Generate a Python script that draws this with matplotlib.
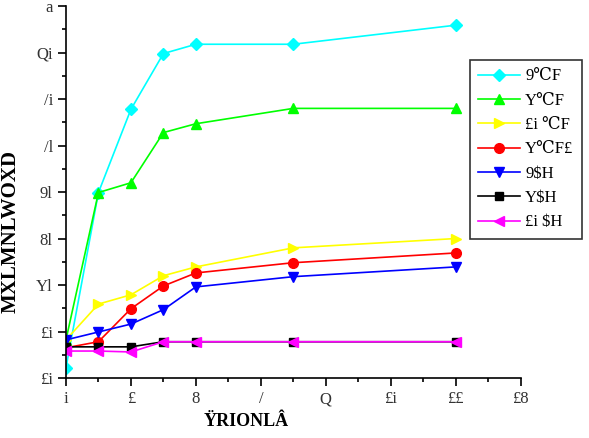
import matplotlib
matplotlib.use('Agg')
import matplotlib.pyplot as plt
from matplotlib.ticker import MultipleLocator

# ---------- DATA ----------
x = [0, 1, 2, 3, 4, 7, 12]
cyan_vals = [2.2, 39.9, 57.8, 69.8, 71.8, 71.8, 75.9]
green_vals = [8.2, 39.9, 42.0, 52.8, 54.7, 58.0, 58.0]
yellow_vals = [8.2, 15.9, 17.9, 22.0, 23.9, 28.0, 30.0]
red_vals = [6.5, 7.8, 14.9, 19.8, 22.6, 24.8, 26.9]
blue_vals = [8.2, 9.9, 11.6, 14.7, 19.6, 21.8, 23.9]
black_vals = [6.7, 6.7, 6.7, 7.8, 7.8, 7.8, 7.8]
magenta_vals = [5.8, 5.8, 5.6, 7.8, 7.8, 7.8, 7.8]

series_labels = ["9℃F", "Y℃F", "£i ℃F", "Y℃F£", "9$H", "Y$H", "£i $H"]
x_ticks = [0, 2, 4, 6, 8, 10, 12, 14]
x_tick_labels = ["i", "£", "8", "/", "Q", "£i", "££", "£8"]
y_ticks = [0, 10, 20, 30, 40, 50, 60, 70, 80]
y_tick_labels = ["£i", "£i", "Yl", "8l", "9l", "/l", "/i", "Qi", "a"]
x_label = "ŸRIONLÂ"
y_label = "MXLMŇLWOXD"

plt.rcParams['font.family'] = ['Liberation Serif', 'DejaVu Serif']

fig = plt.figure(figsize=(5.89, 4.38), dpi=100)
ax = fig.add_axes([0.112, 0.137, 0.772, 0.849])

styles = [
    (cyan_vals, "#00FFFF", "D", 6),
    (green_vals, "#00FF00", "^", 7),
    (yellow_vals, "#FFFF00", ">", 7),
    (red_vals, "#FF0000", "o", 7),
    (blue_vals, "#0000FF", "v", 7),
    (black_vals, "#000000", "s", 6),
    (magenta_vals, "#FF00FF", "<", 7),
]
for (vals, col, mk, ms), lab in zip(styles, series_labels):
    ax.plot(x, vals, color=col, marker=mk, markersize=ms, linewidth=1.2, label=lab)

ax.set_xlim(0, 14)
ax.set_ylim(0, 80)
ax.set_xticks(x_ticks)
ax.set_xticklabels(x_tick_labels, fontsize=12, color='#333333')
ax.set_yticks(y_ticks)
ax.set_yticklabels(y_tick_labels, fontsize=12, color='#333333')
ax.xaxis.set_minor_locator(MultipleLocator(1))
ax.yaxis.set_minor_locator(MultipleLocator(5))
ax.tick_params(which='major', direction='out', length=6, width=1.2)
ax.tick_params(which='minor', direction='out', length=3, width=1.2)
ax.spines['top'].set_visible(False)
ax.spines['right'].set_visible(False)
ax.spines['left'].set_linewidth(1.2)
ax.spines['bottom'].set_linewidth(1.2)

ax.set_xlabel(x_label, fontsize=13, fontweight='bold')
ax.set_ylabel(y_label, fontsize=15, fontweight='bold')
ax.xaxis.set_label_coords(0.396, -0.095)
ax.yaxis.set_label_coords(-0.1, 0.395)

leg = fig.legend(loc='upper left', bbox_to_anchor=(0.798, 0.863), fontsize=12,
                 handlelength=2.5, frameon=True, fancybox=False, borderpad=0.5,
                 labelspacing=0.5, handletextpad=0.3, borderaxespad=0)
leg.get_frame().set_edgecolor('black')
leg.get_frame().set_linewidth(1.2)

fig.savefig("out.png", dpi=100)
